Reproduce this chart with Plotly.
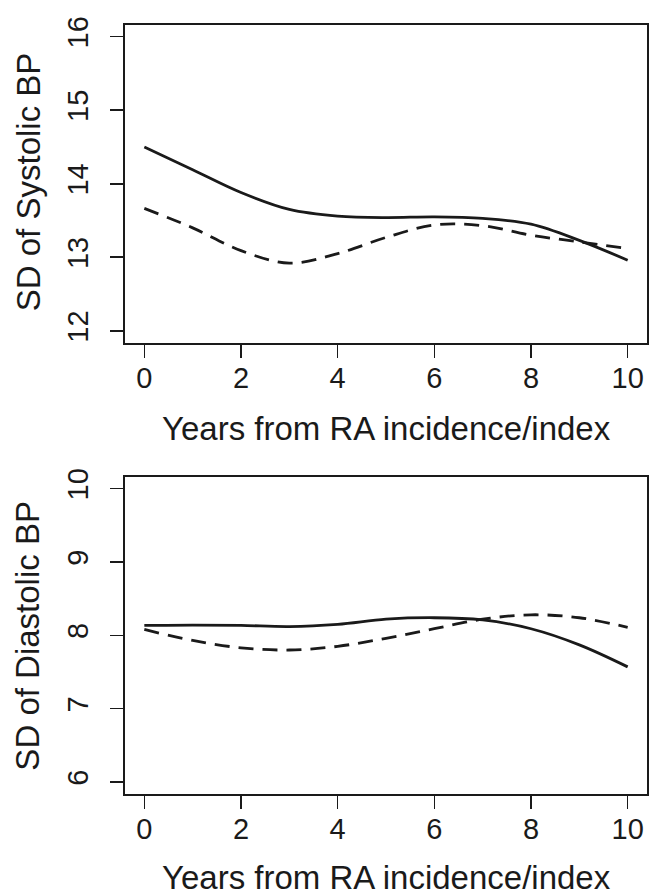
import plotly.graph_objects as go

years = [0, 1, 2, 3, 4, 5, 6, 7, 8, 9, 10]
sys_solid = [14.50, 14.19, 13.88, 13.65, 13.56, 13.54, 13.55, 13.53, 13.45, 13.23, 12.96]
sys_dashed = [13.665, 13.40, 13.09, 12.92, 13.05, 13.27, 13.44, 13.43, 13.30, 13.21, 13.12]
dia_solid = [8.135, 8.14, 8.135, 8.12, 8.15, 8.22, 8.24, 8.21, 8.09, 7.87, 7.57]
dia_dashed = [8.08, 7.93, 7.83, 7.80, 7.85, 7.96, 8.09, 8.22, 8.28, 8.24, 8.11]

x_ticks = [0, 2, 4, 6, 8, 10]
sys_ticks = [12, 13, 14, 15, 16]
dia_ticks = [6, 7, 8, 9, 10]

W, H = 649, 895
FONT = "Liberation Sans, Arial, Helvetica, sans-serif"
INK = "#1a1a1a"

def px(x):
    return x / W

def py(y):
    return (H - y) / H

fig = go.Figure()

line_solid = dict(color=INK, width=2.8, shape="spline", smoothing=1.0)
line_dash = dict(color=INK, width=2.8, shape="spline", smoothing=1.0, dash="15px,9px")

fig.add_trace(go.Scatter(x=years, y=sys_solid, mode="lines", line=line_solid, xaxis="x", yaxis="y", showlegend=False))
fig.add_trace(go.Scatter(x=years, y=sys_dashed, mode="lines", line=line_dash, xaxis="x", yaxis="y", showlegend=False))
fig.add_trace(go.Scatter(x=years, y=dia_solid, mode="lines", line=line_solid, xaxis="x2", yaxis="y2", showlegend=False))
fig.add_trace(go.Scatter(x=years, y=dia_dashed, mode="lines", line=line_dash, xaxis="x2", yaxis="y2", showlegend=False))

xdom = [px(125), px(647)]
top_dom = [py(337), py(16)]
bot_dom = [py(792.7), py(472.7)]

def xaxis(anchor):
    return dict(domain=xdom, anchor=anchor, range=[-0.4, 10.4], tickvals=x_ticks,
                ticks="outside", ticklen=13, tickwidth=1.6, tickcolor=INK,
                showline=True, linewidth=2.2, linecolor=INK, mirror=True,
                showgrid=False, zeroline=False, ticklabelstandoff=-5,
                tickfont=dict(family=FONT, size=29, color=INK))

def yaxis(anchor, dom, rng, tv):
    return dict(domain=dom, anchor=anchor, range=rng, tickvals=tv,
                ticks="outside", ticklen=13, tickwidth=1.6, tickcolor=INK,
                showline=True, linewidth=2.2, linecolor=INK, mirror=True,
                showgrid=False, zeroline=False, tickangle=-90, ticklabelstandoff=10,
                tickfont=dict(family=FONT, size=29, color=INK))

fig.update_layout(
    width=W, height=H,
    margin=dict(l=0, r=0, t=0, b=0),
    paper_bgcolor="white", plot_bgcolor="white",
    xaxis=xaxis("y"),
    yaxis=yaxis("x", top_dom, [11.84, 16.16], sys_ticks),
    xaxis2=xaxis("y2"),
    yaxis2=yaxis("x2", bot_dom, [5.84, 10.16], dia_ticks),
)

ann_font = dict(family=FONT, size=33, color=INK)
fig.add_annotation(text="Years from RA incidence/index", x=px(386), y=py(424),
                   xref="paper", yref="paper", showarrow=False, font=ann_font,
                   xanchor="center", yanchor="middle")
fig.add_annotation(text="Years from RA incidence/index", x=px(386), y=py(877),
                   xref="paper", yref="paper", showarrow=False, font=ann_font,
                   xanchor="center", yanchor="middle")
fig.add_annotation(text="SD of Systolic BP", x=px(28), y=py(175), textangle=-90,
                   xref="paper", yref="paper", showarrow=False, font=ann_font,
                   xanchor="center", yanchor="middle")
fig.add_annotation(text="SD of Diastolic BP", x=px(28), y=py(633), textangle=-90,
                   xref="paper", yref="paper", showarrow=False, font=ann_font,
                   xanchor="center", yanchor="middle")

fig.write_html(
    "out.html",
    config={"displayModeBar": False, "staticPlot": True},
    post_script="document.body.style.margin='0';document.body.style.overflow='hidden';"
                "document.documentElement.style.overflow='hidden';",
)
